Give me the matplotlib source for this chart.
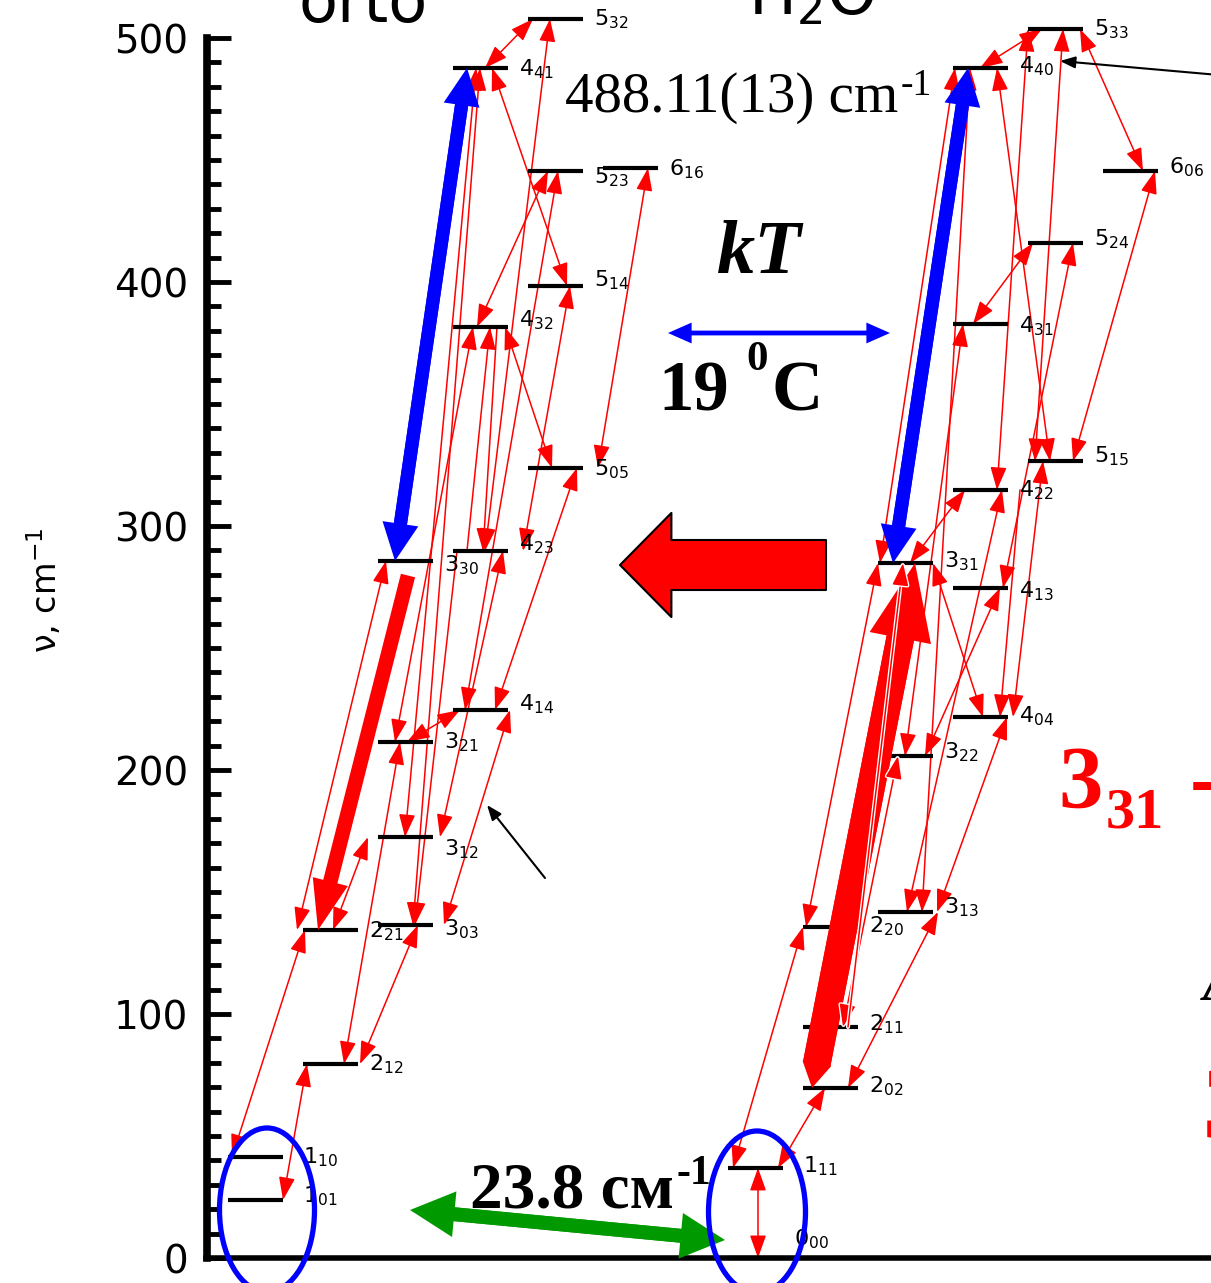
import matplotlib
matplotlib.use("Agg")
import matplotlib.pyplot as plt
from matplotlib.patches import FancyArrowPatch, Ellipse
from matplotlib.ticker import FixedLocator
import matplotlib.patheffects as pe

plt.rcParams['font.family'] = ['DejaVu Sans']
plt.rcParams['mathtext.fontset'] = 'dejavusans'

# ---------------- data ----------------
ortho_levels = ["1_01", "1_10", "2_12", "2_21", "3_03", "3_12", "3_21", "3_30",
                "4_14", "4_23", "4_32", "4_41", "5_05", "5_14", "5_23", "5_32", "6_16"]
ortho_energy = [23.8, 41.4, 79.5, 134.4, 136.5, 172.5, 211.5, 285.7,
                224.6, 289.8, 381.6, 487.7, 323.8, 398.4, 445.5, 507.8, 446.7]
para_levels = ["0_00", "1_11", "2_02", "2_11", "2_20", "3_13", "3_22", "3_31",
               "4_04", "4_13", "4_22", "4_31", "4_40", "5_15", "5_24", "5_33", "6_06"]
para_energy = [0.0, 36.9, 69.7, 94.7, 135.7, 141.8, 205.7, 284.8,
               221.7, 274.6, 314.8, 382.8, 487.7, 326.6, 416.0, 503.7, 445.5]

# transitions (level A, level B, heads: "both" or "B")
ortho_transitions = [
    ("1_10", "2_21", "both"), ("1_01", "2_12", "both"), ("2_21", "3_30", "both"),
    ("2_21", "3_12", "both"), ("2_12", "3_21", "both"), ("2_12", "3_03", "both"),
    ("3_21", "4_32", "both"), ("3_12", "4_41", "both"), ("3_03", "4_41", "both"),
    ("4_41", "5_14", "both"), ("4_41", "5_32", "both"), ("4_23", "5_32", "both"),
    ("4_32", "5_23", "both"), ("4_14", "5_23", "both"), ("5_05", "6_16", "both"),
    ("4_23", "5_14", "both"), ("4_32", "5_05", "both"), ("4_14", "5_05", "both"),
    ("4_23", "4_32", "B"), ("4_32", "4_23", "B"), ("3_12", "4_23", "both"),
    ("3_21", "4_14", "both"), ("4_23", "3_03", "B"), ("3_03", "4_14", "both"),
]
para_transitions = [
    ("0_00", "1_11", "both"), ("1_11", "2_20", "both"), ("1_11", "2_02", "both"),
    ("2_02", "3_13", "both"), ("2_20", "3_31", "both"), ("3_31", "4_40", "both"),
    ("3_31", "4_22", "both"), ("3_13", "4_40", "both"), ("4_40", "5_15", "both"),
    ("4_40", "5_33", "both"), ("4_22", "5_33", "both"), ("5_15", "5_33", "both"),
    ("5_33", "6_06", "both"), ("5_15", "6_06", "both"), ("4_31", "5_24", "both"),
    ("4_13", "5_24", "both"), ("3_31", "4_04", "both"), ("4_22", "4_04", "B"),
    ("4_04", "5_15", "both"), ("3_13", "4_04", "both"), ("3_22", "4_13", "both"),
    ("3_13", "4_22", "both"), ("3_22", "4_31", "both"),
]
para_overlay_transitions = [("2_11", "3_22", "both"), ("2_11", "3_31", "B")]

# strong transitions: (side, from, to)
strong_red = [("ortho", "3_30", "2_21"), ("para", "2_02", "3_31")]
strong_blue = [("ortho", "3_30", "4_41"), ("para", "3_31", "4_40")]

yticks = [0, 100, 200, 300, 400, 500]
yminor = [v for v in range(0, 501, 10) if v % 100]

# ---------------- layout (pixels along the schematic x axis) ----------------
ortho_anchor = [(4, 2), (55, 4), (-6, 8), (30, -10), (41, 22), (57, 40), (17, 20),
                (27, 23), (35, 27), (39, 39), (32, 5), (32, 22), (24, 20), (12, 30),
                (70, 45), (70, 42), (52, 24), (42, 49), (14, 37), (44, 30), (62, 50),
                (29, 7), (4, 37), (66, 57)]
para_anchor = [(30, 30), (5, 0), (50, 22), (45, 60), (3, 0), (2, 2), (32, 12),
               (44, 17), (44, 22), (27, 14), (44, 0), (7, 35), (52, 40), (45, 52),
               (20, 5), (50, 45), (55, 30), (67, 47), (60, 15), (59, 54), (47, 47),
               (29, 49), (27, 10)]
para_overlay_anchor = [(40, 20), (45, 25)]
strong_red_anchor = [(30, 15), (9, 37)]
strong_blue_anchor = [(17, 14), (15, 15)]
label_drop = {"1_01": 2, "1_10": 6, "2_12": 6, "2_21": 7, "3_03": 10, "3_12": 18,
              "3_21": 6, "3_30": 11, "4_14": 0, "4_23": 0, "4_32": 0, "4_41": 7,
              "5_05": 7, "5_14": 0, "5_23": 12, "5_32": 6, "6_16": 7,
              "0_00": -13, "1_11": 4, "2_02": 4, "2_11": 3, "2_20": 6, "3_13": 1,
              "3_22": 2, "3_31": 4, "4_04": 5, "4_13": 9, "4_22": 7, "4_31": 8,
              "4_40": 4, "5_15": 1, "5_24": 2, "5_33": 6, "6_06": 2}

W, H = 1211, 1283
Y0, PPU = 1258.0, 2.44


def yv(py):
    return (Y0 - py) / PPU


fig = plt.figure(figsize=(W / 100, H / 100), dpi=100)
ax = fig.add_axes([0, 0, 1, 1])
ax.set_xlim(0, W)
ax.set_ylim(yv(H), yv(0))

for s in ("top", "right"):
    ax.spines[s].set_visible(False)
ax.spines["left"].set_position(("data", 206.5))
ax.spines["left"].set_bounds(0, 500)
ax.spines["left"].set_linewidth(5.5)
ax.spines["bottom"].set_position(("data", 0))
ax.spines["bottom"].set_bounds(206, W)
ax.spines["bottom"].set_linewidth(4)
ax.set_xticks([])
ax.set_yticks(yticks)
ax.yaxis.set_minor_locator(FixedLocator(yminor))
ax.tick_params(axis="y", which="major", direction="in", length=17, width=3.5,
               labelsize=28, pad=13)
ax.tick_params(axis="y", which="minor", direction="in", length=10, width=3.5)

ax.text(45, yv(590), "ν, cm$^{-1}$", rotation=90, fontsize=24,
        ha="center", va="center")

levels = {"ortho": dict(zip(ortho_levels, ortho_energy)),
          "para": dict(zip(para_levels, para_energy))}


def x0(side, name):
    J = int(name[0])
    if side == "ortho":
        return 228 + 75 * (J - 1)
    return 728 + 75 * max(J - 1, 0)


LW_LEN = 55
# levels
for side in ("ortho", "para"):
    for name, E in levels[side].items():
        xs = x0(side, name)
        ax.plot([xs, xs + LW_LEN], [E, E], color="black", lw=3, zorder=3,
                solid_capstyle="butt")
        gap = 20 if name[0] == "1" else 11
        ax.annotate(f"${name[0]}_{{{name[2:]}}}$", xy=(xs + LW_LEN, E),
                    xytext=(gap * 0.72, -label_drop[name] * 0.72),
                    textcoords="offset points", fontsize=16, va="baseline",
                    ha="left", zorder=4)


def thin(side, a, b, heads, off, zorder=2, overlay=False):
    pa = (x0(side, a) + off[0], levels[side][a])
    pb = (x0(side, b) + off[1], levels[side][b])
    style = "<|-|>" if heads == "both" else "-|>"
    arr = FancyArrowPatch(pa, pb, arrowstyle=f"{style},head_length=1.4,head_width=0.5",
                          mutation_scale=10, color="red", lw=1.1,
                          shrinkA=0, shrinkB=0, zorder=zorder)
    if overlay:
        arr.set_path_effects([pe.withStroke(linewidth=3, foreground="white")])
    ax.add_patch(arr)


for (a, b, h), off in zip(ortho_transitions, ortho_anchor):
    thin("ortho", a, b, h, off)
for (a, b, h), off in zip(para_transitions, para_anchor):
    thin("para", a, b, h, off)


def fat(p0, p1, tail, hw, hl, color, both=True, hw0=None, hl0=None, z=5,
        ec="none", lw=0):
    hw0 = hw if hw0 is None else hw0
    hl0 = hl if hl0 is None else hl0
    ax.add_patch(FancyArrowPatch(p0, p1, arrowstyle=f"simple,head_length={hl},head_width={hw},tail_width={tail}",
                                 mutation_scale=1, fc=color, ec=ec, lw=lw,
                                 shrinkA=(hl0 * 0.95 if both else 0), shrinkB=0,
                                 zorder=z))
    if both:
        ax.add_patch(FancyArrowPatch(p1, p0, arrowstyle=f"simple,head_length={hl0},head_width={hw0},tail_width={tail}",
                                     mutation_scale=1, fc=color, ec=ec, lw=lw,
                                     shrinkA=hl * 0.95, shrinkB=0, zorder=z))


def lp(side, name, off):
    return (x0(side, name) + off, levels[side][name])


# strong red transitions
(s, a, b), off = strong_red[0], strong_red_anchor[0]
pa, pb = lp(s, a, off[0]), lp(s, b, off[1])
pa = (pa[0], pa[1] - 6)
fat(pa, pb, tail=10.5, hw=26, hl=36, color="red", both=False)
(s, a, b), off = strong_red[1], strong_red_anchor[1]
fat(lp(s, a, off[0]), lp(s, b, off[1]), tail=20, hw=45, hl=55, color="red",
    hw0=21, hl0=18)
# strong blue transitions
for (s, a, b), off in zip(strong_blue, strong_blue_anchor):
    fat(lp(s, a, off[0]), lp(s, b, off[1]), tail=9.5, hw=26, hl=27, color="#0000ff")

for (a, b, h), off in zip(para_overlay_transitions, para_overlay_anchor):
    thin("para", a, b, h, off, zorder=6, overlay=True)

# ellipses around the ground levels
for cx, cy, w, hgt in [(267, 1210, 95, 164), (757, 1212, 97, 162)]:
    ax.add_patch(Ellipse((cx, yv(cy)), w, hgt / PPU, fill=False, ec="#0000ff",
                         lw=3.8, zorder=7, clip_on=False))

# big red left arrow
ax.add_patch(FancyArrowPatch((826, yv(565)), (620, yv(565)),
                             arrowstyle="simple,head_length=37,head_width=75,tail_width=36",
                             mutation_scale=1, fc="red", ec="black", lw=1.5,
                             shrinkA=0, shrinkB=0, zorder=5))
# green arrow
fat((725, yv(1240)), (410, yv(1210)), tail=10, hw=33, hl=32, color="#009a00", z=6)
# blue kT arrow
fat((668, yv(333)), (890, yv(333)), tail=3.2, hw=15, hl=17, color="#0000ff", z=6)
# black pointer arrows
for p0, p1 in [((545, yv(878)), (487, yv(805))), ((1230, yv(76)), (1060, yv(61)))]:
    ax.add_patch(FancyArrowPatch(p0, p1, arrowstyle="-|>,head_length=0.9,head_width=0.35",
                                 mutation_scale=10, color="black", lw=1.5,
                                 shrinkA=0, shrinkB=0, zorder=6, clip_on=False))

# ---------------- texts ----------------
renderer = fig.canvas.get_renderer()


def rich(x, y, segs, **kw):
    inv = ax.transData.inverted()
    dx, dy = ax.transData.transform((x, y))
    for s, size, rise, gap in segs:
        pos = inv.transform((dx + gap, dy + rise))
        t = ax.text(pos[0], pos[1], s, fontsize=size, ha="left", va="baseline",
                    zorder=8, clip_on=False, **kw)
        bb = t.get_window_extent(renderer)
        dx = bb.x1


serif = dict(family="Liberation Serif")
ax.text(298, yv(22), "orto", fontsize=46, ha="left", va="baseline", zorder=8)
ax.text(748, yv(14), r"$\mathregular{H_2O}$", fontsize=46, ha="left",
        va="baseline", zorder=8)
rich(565, yv(112), [("488.11(13) cm", 41, 0, 0), ("-1", 27, 17, 2)], **serif)
ax.text(717, yv(273), "kT", fontsize=55, fontweight="bold", fontstyle="italic",
        ha="left", va="baseline", zorder=8, **serif)
rich(658, yv(410), [("19", 51, 0, 0), ("0", 31, 40, 18), ("C", 51, 0, 3)],
     fontweight="bold", **serif)
rich(470, yv(1207), [("23.8 см", 47, 0, 0), ("-1", 30, 23, 3)],
     fontweight="bold", **serif)
rich(1058, yv(807), [("3", 64, 0, 0), ("31", 42, -20, 3), ("-", 64, 0, 26)],
     fontweight="bold", color="red", **serif)
rich(1203, yv(1138), [("3", 75, 0, 0)], fontweight="bold", color="red", **serif)
rich(1203, yv(1000), [("A", 40, 0, 0)], fontweight="bold", fontstyle="italic",
     **serif)

fig.savefig("out.png", dpi=100)
